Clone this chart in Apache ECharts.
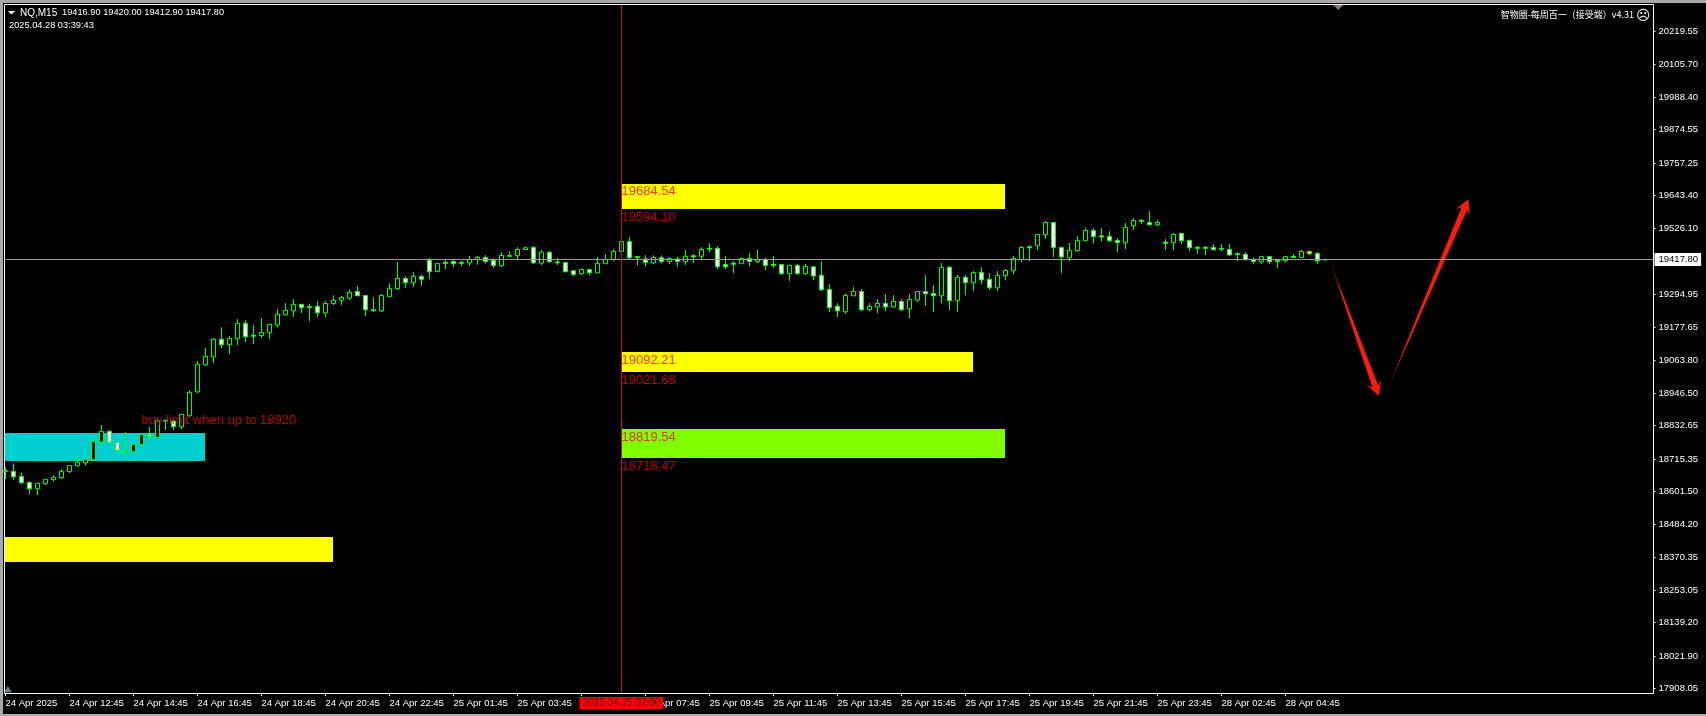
<!DOCTYPE html>
<html><head><meta charset="utf-8">
<style>html,body{margin:0;padding:0;background:#000}#c{width:1706px;height:716px}</style>
<script src="https://cdn.jsdelivr.net/npm/echarts@6/dist/echarts.min.js"></script>
</head><body><div id="c"></div>
<script>
// candles as [open, close, low, high]
const candles = [
[18672,18675,18645,18686],[18672,18653,18641,18700],[18654,18632,18627,18668],[18633,18611,18592,18637],[18611,18630,18589,18631],
[18629,18644,18624,18644],[18643,18651,18636,18658],[18650,18672,18645,18680],[18671,18693,18667,18693],[18692,18704,18688,18726],
[18702,18714,18692,18714],[18713,18778,18713,18778],[18776,18813,18765,18835],[18813,18774,18770,18817],[18773,18745,18735,18776],
[18741,18744,18726,18810],[18741,18767,18738,18768],[18767,18802,18765,18803],[18803,18794,18782,18828],[18792,18850,18789,18858],
[18849,18852,18817,18855],[18849,18829,18817,18855],[18829,18873,18821,18874],[18868,18950,18864,18958],[18952,19049,18948,19060],
[19047,19077,19043,19106],[19075,19137,19053,19141],[19137,19118,19106,19179],[19118,19140,19085,19148],[19139,19193,19117,19208],
[19193,19146,19127,19205],[19151,19148,19120,19187],[19150,19161,19141,19212],[19160,19189,19138,19190],[19187,19225,19179,19243],
[19223,19239,19220,19264],[19237,19260,19215,19278],[19260,19248,19229,19261],[19252,19249,19201,19261],[19253,19230,19215,19271],
[19230,19263,19215,19271],[19263,19274,19257,19292],[19275,19284,19257,19289],[19282,19302,19275,19312],[19305,19290,19289,19324],
[19291,19241,19219,19291],[19241,19238,19233,19285],[19237,19291,19233,19296],[19287,19316,19285,19334],[19315,19351,19311,19409],
[19351,19336,19317,19359],[19336,19358,19321,19373],[19358,19348,19325,19365],[19415,19375,19349,19423],[19375,19404,19375,19404],
[19408,19404,19384,19416],[19411,19403,19391,19415],[19408,19404,19395,19412],[19406,19418,19395,19430],[19417,19425,19400,19430],
[19425,19411,19403,19433],[19415,19397,19388,19422],[19396,19432,19391,19444],[19429,19432,19426,19447],[19431,19453,19418,19461],
[19453,19459,19451,19464],[19460,19406,19402,19465],[19405,19443,19398,19451],[19443,19410,19406,19447],[19409,19406,19398,19423],
[19407,19375,19372,19409],[19378,19365,19359,19379],[19368,19383,19363,19386],[19382,19371,19363,19386],[19371,19404,19370,19426],
[19403,19417,19402,19437],[19417,19446,19413,19454],[19446,19481,19444,19486],[19481,19424,19418,19497],[19428,19425,19396,19430],
[19420,19407,19394,19433],[19406,19425,19402,19432],[19424,19411,19404,19432],[19411,19421,19402,19426],[19420,19411,19392,19426],
[19410,19429,19398,19451],[19431,19427,19405,19437],[19429,19453,19419,19461],[19457,19454,19443,19475],[19457,19392,19384,19465],
[19400,19392,19384,19430],[19405,19401,19370,19412],[19403,19421,19402,19425],[19421,19411,19394,19440],[19410,19417,19405,19451],
[19418,19397,19380,19424],[19401,19397,19387,19430],[19400,19368,19364,19402],[19368,19397,19342,19400],[19397,19368,19363,19403],
[19368,19393,19363,19402],[19392,19360,19345,19393],[19362,19311,19307,19412],[19312,19248,19233,19331],[19253,19237,19215,19264],
[19234,19291,19226,19298],[19290,19305,19290,19321],[19305,19241,19236,19314],[19241,19253,19236,19264],[19251,19263,19229,19278],
[19263,19251,19236,19296],[19251,19270,19247,19292],[19270,19241,19236,19278],[19244,19277,19211,19296],[19275,19305,19268,19307],
[19305,19297,19254,19363],[19298,19290,19233,19328],[19290,19390,19264,19405],[19390,19273,19240,19395],[19273,19355,19233,19363],
[19355,19336,19292,19363],[19336,19372,19307,19377],[19372,19346,19331,19391],[19348,19318,19310,19370],[19318,19362,19307,19377],
[19361,19379,19345,19384],[19378,19422,19366,19430],[19418,19460,19409,19465],[19463,19459,19412,19468],[19466,19506,19451,19506],
[19505,19548,19490,19553],[19548,19460,19426,19550],[19460,19427,19370,19460],[19424,19450,19412,19476],[19449,19485,19444,19500],
[19484,19520,19482,19528],[19520,19499,19475,19528],[19501,19497,19482,19528],[19499,19484,19479,19518],[19485,19477,19444,19493],
[19477,19531,19454,19546],[19537,19555,19521,19563],[19556,19552,19542,19560],[19548,19540,19539,19588],[19540,19548,19535,19556],
[19479,19475,19451,19490],[19477,19506,19451,19511],[19510,19484,19472,19511],[19485,19459,19447,19488],[19461,19457,19437,19465],
[19461,19457,19433,19465],[19460,19452,19451,19472],[19457,19454,19447,19472],[19453,19434,19430,19472],[19439,19435,19412,19443],
[19436,19417,19414,19443],[19418,19411,19402,19425],[19410,19428,19402,19428],[19428,19410,19402,19430],[19415,19411,19387,19418],
[19413,19428,19409,19430],[19429,19425,19423,19437],[19425,19446,19423,19451],[19446,19438,19433,19450],[19439,19413,19402,19444],
[19416.9,19417.8,19412.9,19420]
];
const barSlots = 207;
const timeLabels = ['24 Apr 2025','24 Apr 12:45','24 Apr 14:45','24 Apr 16:45','24 Apr 18:45','24 Apr 20:45','24 Apr 22:45',
 '25 Apr 01:45','25 Apr 03:45','25 Apr 05:45','25 Apr 07:45','25 Apr 09:45','25 Apr 11:45','25 Apr 13:45','25 Apr 15:45',
 '25 Apr 17:45','25 Apr 19:45','25 Apr 21:45','25 Apr 23:45','28 Apr 02:45','28 Apr 04:45'];
const priceTicks = [20219.55,20105.70,19988.40,19874.55,19757.25,19643.40,19526.10,19294.95,19177.65,19063.80,18946.50,
 18832.65,18715.35,18601.50,18484.20,18370.35,18253.05,18139.20,18021.90,17908.05];
const lastPrice = 19417.80;
const priceMin = 17891.88, priceMax = 20313.64;
const cursorBar = 77, cursorLabel = '2025.04.25 07:00';
// zones: [startBar, endBar, priceHigh, priceLow, colour]
const zones = [
 [77,125,19684.54,19594.10,'#ffff00'],
 [77,121,19092.21,19021.68,'#ffff00'],
 [77,125,18819.54,18718.47,'#7fff00'],
 [0,25,18806,18708,'#00ced1'],
 [0,41,18442,18354,'#ffff00']
];
const zoneNotes = [19684.54,19594.10,19092.21,19021.68,18819.54,18718.47];
const buyNote = {bar:17,price:18852,text:'buy limit when up to 18920'};
// projected path: [barFrom, priceFrom, barTo, priceTo]
const arrows = [[165.6,19408,171.66,18938],[172.7,18958,182.85,19630]];
const fmt2 = v => Number(v).toFixed(2);
const axisFont = 'Liberation Sans';
const cats = Array.from({length:barSlots},(_,i)=>String(i));
const plain = (size, family) => ({color:'#fff',fontSize:size,fontWeight:'normal',fontFamily:family||axisFont});

function zoneItem(params, api){
  const a = api.coord([api.value(0), api.value(2)]);
  const b = api.coord([api.value(1), api.value(3)]);
  const x0 = Math.floor(a[0]), x1 = Math.floor(b[0]), y0 = Math.round(a[1]), y1 = Math.round(b[1]);
  return {type:'rect', shape:{x:x0,y:y0,width:x1-x0,height:y1-y0}, style:{fill:zones[params.dataIndex][4]}, silent:true};
}
function arrowItem(params, api){
  const s = api.coord([api.value(0), api.value(1)]);
  const e = api.coord([api.value(2), api.value(3)]);
  const dx = e[0]-s[0], dy = e[1]-s[1], L = Math.hypot(dx,dy), ux = dx/L, uy = dy/L, nx = -uy, ny = ux;
  const headLen = 14, wing = 7.5, neck = 3, notch = 10;
  const p = (along, off) => [e[0]-ux*along+nx*off, e[1]-uy*along+ny*off];
  return {type:'polygon', shape:{points:[[s[0],s[1]],p(notch,neck),p(headLen,wing),[e[0],e[1]],p(headLen,-wing),p(notch,-neck)]},
    style:{fill:{type:'linear',x:s[0],y:s[1],x2:e[0],y2:e[1],global:true,colorStops:[{offset:0,color:'#600000'},{offset:0.25,color:'#ff1a10'},{offset:1,color:'#ff1a10'}]}},silent:true};
}
const chart = echarts.init(document.getElementById('c'),null,{renderer:'canvas'});
chart.setOption({
 animation:false, backgroundColor:'#000',
 textStyle:{fontFamily:axisFont},
 title:[
  {text:'NQ,M15',left:20,top:8,padding:0,textStyle:plain(10)},
  {text:'19416.90 19420.00 19412.90 19417.80',left:62,top:8,padding:0,textStyle:plain(9.25)},
  {text:'2025.04.28 03:39:43',left:9,top:21,padding:0,textStyle:plain(9.25)},
  {text:'智物圈-每周百一（接受端）v4.31',right:72,top:10,padding:0,textStyle:plain(9,'Noto Sans CJK SC')},
  {text:'☹',left:1636,top:9,padding:0,textStyle:plain(14,'DejaVu Sans')}
 ],
 grid:{left:5.5,right:52.5,top:5,bottom:23,show:false},
 xAxis:[{type:'category',data:cats,boundaryGap:false,
   axisLine:{show:false,onZero:false},
   axisTick:{show:true,alignWithLabel:true,interval:i=>i%8===0&&i<=160,length:3,lineStyle:{color:'#fff'}},
   axisLabel:{color:'#fff',fontSize:9.5,fontFamily:axisFont,align:'left',margin:5,showMinLabel:true,
     interval:(i)=>i%8===0&&i<=160,formatter:(v,i)=>timeLabels[i/8]||''},
   splitLine:{show:false}},
  {type:'value',min:0,max:barSlots-1,show:false,gridIndex:0,axisLine:{onZero:false}}],
 yAxis:{type:'value',position:'right',min:priceMin,max:priceMax,scale:true,
   axisLine:{show:false,onZero:false},
   axisTick:{show:true,length:2,customValues:priceTicks,lineStyle:{color:'#fff'}},
   axisLabel:{color:'#fff',fontSize:9.5,fontFamily:axisFont,margin:5,customValues:priceTicks,formatter:fmt2},
   splitLine:{show:false}},
 series:[
  {type:'custom',xAxisIndex:1,yAxisIndex:0,z:1,renderItem:zoneItem,data:zones.map(z=>z.slice(0,4)),encode:{x:[0,1],y:[2,3]},clip:true,silent:true},
  {type:'candlestick',xAxisIndex:0,yAxisIndex:0,z:3,data:candles,barWidth:4,clip:true,silent:true,
   itemStyle:{color:'#000',color0:'#fff',borderColor:'#00ff00',borderColor0:'#00ff00',borderWidth:1},
   markLine:{silent:true,symbol:'none',animation:false,precision:2,data:[
     {yAxis:lastPrice,lineStyle:{color:'#9a9a9a',width:1,type:'solid'},
      label:{show:true,position:'end',distance:1,formatter:p=>fmt2(p.value),color:'#000',backgroundColor:'#fff',fontSize:9.5,padding:[2,3,1,4],fontFamily:axisFont}},
     {xAxis:String(cursorBar),lineStyle:{color:'#cc1010',width:1,type:'solid'},
      label:{show:true,position:'start',formatter:cursorLabel,color:'#300000',backgroundColor:'#ff0000',fontSize:10,padding:[1,3,1,3],distance:4,fontFamily:axisFont}}
   ]}},
  {type:'custom',xAxisIndex:1,yAxisIndex:0,z:4,renderItem:arrowItem,data:arrows,encode:{x:[0,2],y:[1,3]},clip:false,silent:true},
  {type:'scatter',xAxisIndex:1,yAxisIndex:0,z:5,symbolSize:0,silent:true,
   data:zoneNotes.map(v=>[cursorBar,v]),
   label:{show:true,position:'right',distance:0,offset:[0,8],formatter:p=>p.value[1].toFixed(2),color:'#f00000',fontSize:13,fontFamily:axisFont}},
  {type:'scatter',xAxisIndex:1,yAxisIndex:0,z:5,symbolSize:0,silent:true,
   data:[[buyNote.bar,buyNote.price]],
   label:{show:true,position:'right',distance:0,formatter:buyNote.text,color:'#f00000',fontSize:13,fontFamily:axisFont}},
  {type:'scatter',xAxisIndex:1,yAxisIndex:0,z:6,symbol:'triangle',symbolRotate:180,symbolSize:[10,5],silent:true,clip:false,
   data:[[166.6,20305]],itemStyle:{color:'#8aa0b0'}},
  {type:'scatter',xAxisIndex:1,yAxisIndex:0,z:6,symbol:'triangle',symbolSize:[8,6],silent:true,clip:false,
   data:[[0.3,17905]],itemStyle:{color:'#8aa0b0'}}
 ],
 graphic:[
  {type:'rect',silent:true,shape:{x:0,y:0,width:1706,height:3},style:{fill:'#a8a8a8'}},
  {type:'rect',silent:true,shape:{x:0,y:0,width:3,height:716},style:{fill:'#a8a8a8'}},
  {type:'rect',silent:true,shape:{x:0,y:714,width:1706,height:2},style:{fill:'#a8a8a8'}},
  {type:'rect',silent:true,z:-1,shape:{x:4.5,y:4.5,width:1649,height:689},style:{fill:'none',stroke:'#fff',lineWidth:1}},
  {type:'polygon',silent:true,shape:{points:[[8,11],[15,11],[11.5,14.5]]},style:{fill:'#fff'}}
 ]
});
</script></body></html>
